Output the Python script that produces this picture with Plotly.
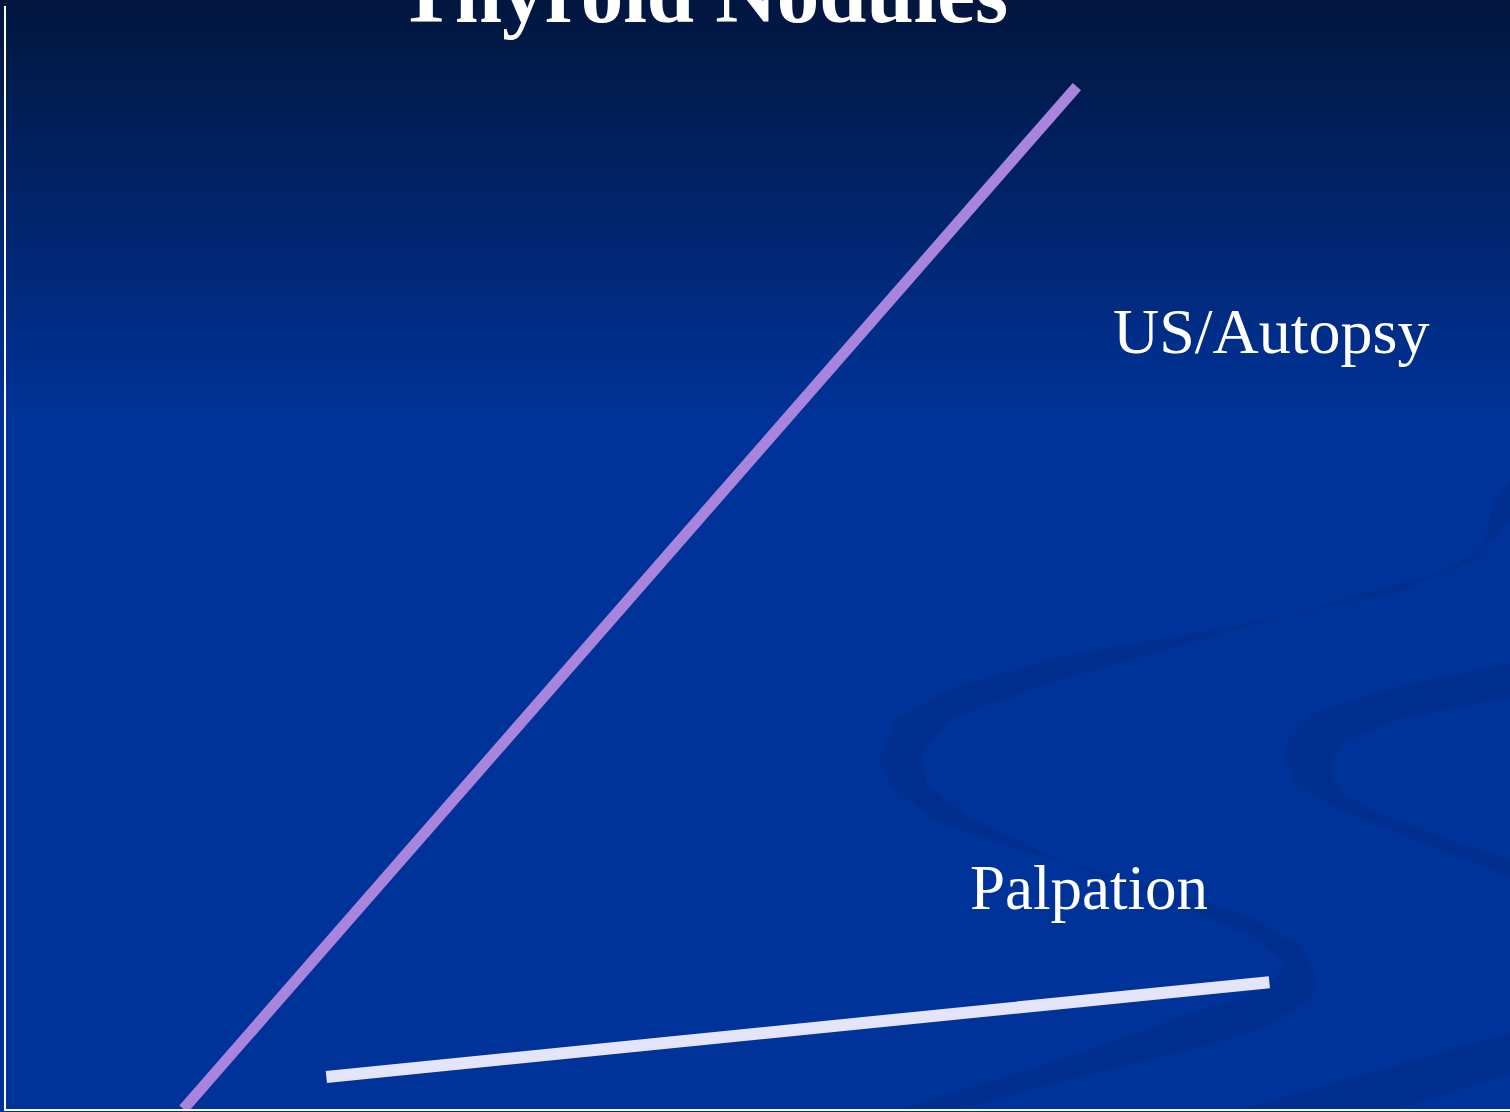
import plotly.graph_objects as go

# ---- data (conceptual prevalence vs age) ----
us_autopsy_x = [11.8, 71.2]
us_autopsy_y = [0.0, 92.7]
palpation_x = [21.3, 84.0]
palpation_y = [2.9, 11.5]

title_text = "Thyroid Nodules"
label_us = "US/Autopsy"
label_palp = "Palpation"

W, H = 1510, 1112
L, R, T, B = 6, 0, 6, 3
PW, PH = W - L - R, H - T - B


def px(x):
    return (x - L) / PW


def py(y):
    return (H - B - y) / PH


fig = go.Figure()

fig.add_trace(go.Scatter(x=us_autopsy_x, y=us_autopsy_y, mode="lines",
                         line=dict(color="#a884dc", width=11),
                         hoverinfo="skip", showlegend=False))
fig.add_trace(go.Scatter(x=palpation_x, y=palpation_y, mode="lines",
                         line=dict(color="#e4e4fa", width=12),
                         hoverinfo="skip", showlegend=False))

shapes = []
# vertical gradient at the top of the slide
top = (2, 22, 62)
bot = (0, 51, 153)
step = 6
span = 420
for y0 in range(0, span, step):
    t = (y0 + step / 2) / span
    c = tuple(round(a + (b - a) * t) for a, b in zip(top, bot))
    shapes.append(dict(type="rect", xref="paper", yref="paper", layer="below",
                       x0=px(0), x1=px(W), y0=py(y0 + step + 1), y1=py(y0),
                       fillcolor="rgb(%d,%d,%d)" % c, line=dict(width=0)))


def path(points):
    s = "M %.5f,%.5f" % (px(points[0][0]), py(points[0][1]))
    for x, y in points[1:]:
        s += " L %.5f,%.5f" % (px(x), py(y))
    return s + " Z"


swoosh_col = "rgba(0,38,120,0.28)"
swoosh_a = [(1510, 480), (1494, 500), (1481, 557), (1397, 593), (1229, 627), (1060, 657),
            (955, 687), (896, 720), (879, 760), (892, 787), (934, 820), (1018, 850),
            (1145, 883), (1250, 917), (1300, 945), (1317, 977), (1310, 1000),
            (1267, 1027), (1200, 1047), (1050, 1085), (960, 1109), (900, 1109),
            (1060, 1060), (1200, 1010), (1233, 1000), (1267, 987), (1285, 965),
            (1250, 935), (1150, 895), (1060, 860), (968, 817), (926, 783),
            (922, 753), (955, 717), (1060, 680), (1271, 620), (1439, 573),
            (1494, 540), (1510, 520)]
swoosh_b = [(1510, 663), (1397, 687), (1313, 713), (1288, 740), (1284, 757),
            (1296, 783), (1334, 807), (1397, 833), (1510, 877), (1510, 860),
            (1460, 843), (1376, 813), (1338, 790), (1330, 767), (1343, 743),
            (1397, 720), (1510, 697)]
swoosh_c = [(1243, 1109), (1510, 1033), (1510, 1073), (1400, 1109)]
for pts in (swoosh_a, swoosh_b, swoosh_c):
    shapes.append(dict(type="path", xref="paper", yref="paper", layer="below",
                       path=path(pts), fillcolor=swoosh_col, line=dict(width=0)))

annotations = [
    dict(text="<b>%s</b>" % title_text, xref="paper", yref="paper",
         x=px(703), y=py(-7), xanchor="center", yanchor="middle", showarrow=False,
         font=dict(family="Liberation Serif", size=85, color="white")),
    dict(text=label_us, xref="paper", yref="paper",
         x=px(1271), y=py(331), xanchor="center", yanchor="middle", showarrow=False,
         font=dict(family="Liberation Serif", size=64, color="white")),
    dict(text=label_palp, xref="paper", yref="paper",
         x=px(1089), y=py(888), xanchor="center", yanchor="middle", showarrow=False,
         font=dict(family="Liberation Serif", size=63, color="white")),
]

fig.update_layout(
    width=W, height=H,
    margin=dict(l=L, r=R, t=T, b=B, pad=0),
    paper_bgcolor="rgb(0,51,153)",
    plot_bgcolor="rgba(0,0,0,0)",
    shapes=shapes,
    annotations=annotations,
    showlegend=False,
    xaxis=dict(range=[0, 100], showgrid=False, zeroline=False, showticklabels=False,
               ticks="", showline=True, linecolor="white", linewidth=2, fixedrange=True),
    yaxis=dict(range=[0, 100], showgrid=False, zeroline=False, showticklabels=False,
               ticks="", showline=True, linecolor="white", linewidth=2, fixedrange=True),
)

fig.write_html("out.html", config=dict(displayModeBar=False))
